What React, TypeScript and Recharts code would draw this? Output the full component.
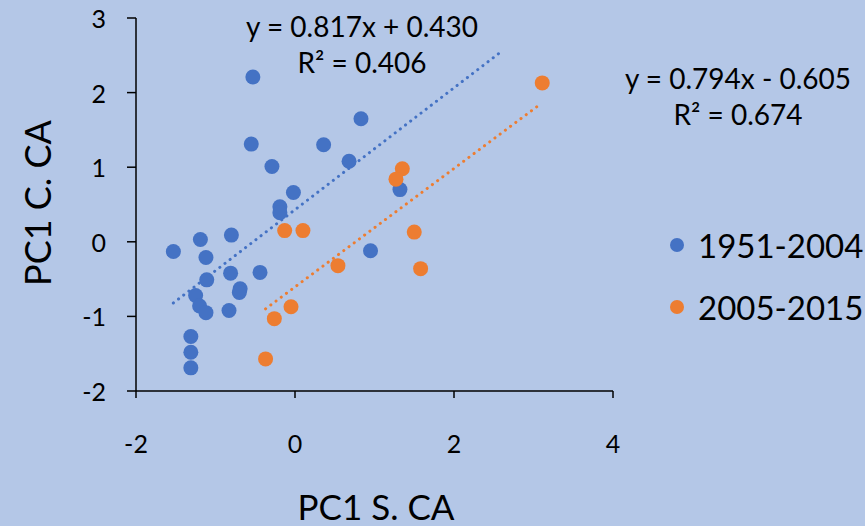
import { ScatterChart, Scatter, XAxis, YAxis, ReferenceLine } from "recharts";

// --- data ---
const early = [
  { x: -0.53, y: 2.21 }, { x: -0.55, y: 1.31 }, { x: -0.29, y: 1.01 },
  { x: 0.83, y: 1.65 }, { x: 0.36, y: 1.3 }, { x: 0.68, y: 1.08 },
  { x: 1.32, y: 0.7 }, { x: -0.02, y: 0.66 }, { x: -0.19, y: 0.47 },
  { x: -0.19, y: 0.39 }, { x: -1.53, y: -0.13 }, { x: -1.19, y: 0.03 },
  { x: -0.8, y: 0.09 }, { x: -1.12, y: -0.21 }, { x: -1.11, y: -0.51 },
  { x: -0.81, y: -0.42 }, { x: -0.44, y: -0.41 }, { x: -0.69, y: -0.63 },
  { x: -0.7, y: -0.68 }, { x: -1.25, y: -0.72 }, { x: -1.2, y: -0.86 },
  { x: -1.12, y: -0.95 }, { x: -0.83, y: -0.92 }, { x: -1.31, y: -1.27 },
  { x: -1.31, y: -1.48 }, { x: -1.31, y: -1.69 }, { x: 0.95, y: -0.12 },
];

const late = [
  { x: 1.35, y: 0.98 }, { x: 1.27, y: 0.84 }, { x: -0.13, y: 0.15 },
  { x: 0.1, y: 0.15 }, { x: 1.5, y: 0.13 }, { x: 0.54, y: -0.32 },
  { x: 1.58, y: -0.36 }, { x: -0.05, y: -0.87 }, { x: -0.26, y: -1.03 },
  { x: -0.37, y: -1.57 }, { x: 3.11, y: 2.13 },
];

const xTicks = [-2, 0, 2, 4];
const yTicks = [-2, -1, 0, 1, 2, 3];

// trendlines: slope, intercept, drawn x-range
const earlyFit = { m: 0.817, b: 0.43, from: -1.53, to: 2.6 };
const lateFit = { m: 0.794, b: -0.605, from: -0.37, to: 3.07 };

const BLUE = "#4472C4";
const ORANGE = "#ED7D31";
const BG = "#B4C7E7";
const FONT = "Lato, 'Open Sans', sans-serif";

const seg = (f: typeof earlyFit) => [
  { x: f.from, y: f.m * f.from + f.b },
  { x: f.to, y: f.m * f.to + f.b },
];

const XTick = ({ x, y, payload }: any) => (
  <text x={x} y={443} textAnchor="middle" dominantBaseline="central" fontSize={25} fontFamily={FONT} fill="#000">
    {payload.value}
  </text>
);

const YTick = ({ y, payload }: any) => (
  <text x={106} y={y} textAnchor="end" dominantBaseline="central" fontSize={25} fontFamily={FONT} fill="#000">
    {payload.value}
  </text>
);

const Dot = ({ cx, cy, fill }: any) => <circle cx={cx} cy={cy} r={7.5} fill={fill} />;

const abs = (style: React.CSSProperties): React.CSSProperties => ({
  position: "absolute",
  fontFamily: FONT,
  color: "#000",
  whiteSpace: "nowrap",
  lineHeight: 1,
  ...style,
});

export default function App() {
  return (
    <div style={{ position: "absolute", left: 0, top: 0, width: 865, height: 526, background: BG }}>
      <ScatterChart width={865} height={526} margin={{ top: 18, right: 252, left: 56, bottom: 75 }}>
        <XAxis
          type="number"
          dataKey="x"
          domain={[-2, 4]}
          ticks={xTicks}
          height={60}
          tickSize={7}
          tick={<XTick />}
          axisLine={{ stroke: "#000", strokeWidth: 1.5 }}
          tickLine={{ stroke: "#000", strokeWidth: 1.5 }}
          allowDataOverflow
        />
        <YAxis
          type="number"
          dataKey="y"
          domain={[-2, 3]}
          ticks={yTicks}
          width={80}
          tickSize={9}
          tick={<YTick />}
          axisLine={{ stroke: "#000", strokeWidth: 1.5 }}
          tickLine={{ stroke: "#000", strokeWidth: 1.5 }}
          allowDataOverflow
        />
        <ReferenceLine
          segment={seg(earlyFit)}
          stroke={BLUE}
          strokeWidth={3}
          strokeDasharray="0.1 6.4"
          strokeLinecap="round"
          ifOverflow="visible"
        />
        <ReferenceLine
          segment={seg(lateFit)}
          stroke={ORANGE}
          strokeWidth={3}
          strokeDasharray="0.1 6.4"
          strokeLinecap="round"
          ifOverflow="visible"
        />
        <Scatter data={early} fill={BLUE} shape={<Dot />} isAnimationActive={false} />
        <Scatter data={late} fill={ORANGE} shape={<Dot />} isAnimationActive={false} />
      </ScatterChart>

      {/* trendline equations */}
      <div style={abs({ left: 362, top: 26, transform: "translate(-50%,-50%)", fontSize: 28 })}>y = 0.817x + 0.430</div>
      <div style={abs({ left: 362, top: 62, transform: "translate(-50%,-50%)", fontSize: 28 })}>R² = 0.406</div>
      <div style={abs({ left: 738, top: 78, transform: "translate(-50%,-50%)", fontSize: 28 })}>y = 0.794x - 0.605</div>
      <div style={abs({ left: 738, top: 114, transform: "translate(-50%,-50%)", fontSize: 28 })}>R² = 0.674</div>

      {/* legend */}
      <div style={abs({ left: 670, top: 238, width: 14, height: 14, borderRadius: 7, background: BLUE })} />
      <div style={abs({ left: 698, top: 245, transform: "translateY(-50%)", fontSize: 33 })}>1951-2004</div>
      <div style={abs({ left: 670, top: 300, width: 14, height: 14, borderRadius: 7, background: ORANGE })} />
      <div style={abs({ left: 698, top: 307, transform: "translateY(-50%)", fontSize: 33 })}>2005-2015</div>

      {/* axis titles */}
      <div style={abs({ left: 376, top: 506, transform: "translate(-50%,-50%)", fontSize: 35 })}>PC1 S. CA</div>
      <div style={abs({ left: 37, top: 203, transform: "translate(-50%,-50%) rotate(-90deg)", fontSize: 36 })}>PC1 C. CA</div>
    </div>
  );
}
